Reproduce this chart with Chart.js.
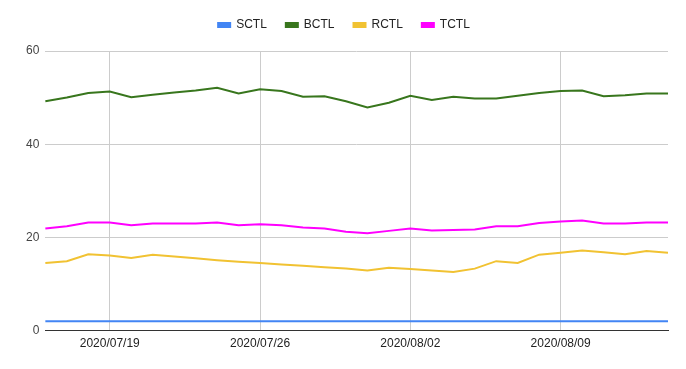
<!DOCTYPE html>
<html>
<head>
<meta charset="utf-8">
<script src="https://cdn.jsdelivr.net/npm/chart.js@4"></script>
<style>
  html, body { margin: 0; padding: 0; background: #fff; }
  #wrap { width: 686px; height: 369px; }
</style>
</head>
<body>
<div id="wrap"><canvas id="myChart"></canvas></div>
<script>
// dates 07/16 .. 08/14
var labels = [
  "2020/07/16","2020/07/17","2020/07/18","2020/07/19","2020/07/20","2020/07/21","2020/07/22",
  "2020/07/23","2020/07/24","2020/07/25","2020/07/26","2020/07/27","2020/07/28","2020/07/29",
  "2020/07/30","2020/07/31","2020/08/01","2020/08/02","2020/08/03","2020/08/04","2020/08/05",
  "2020/08/06","2020/08/07","2020/08/08","2020/08/09","2020/08/10","2020/08/11","2020/08/12",
  "2020/08/13","2020/08/14"
];
var tickLabels = ["2020/07/19", "2020/07/26", "2020/08/02", "2020/08/09"];
var yTicks = [0, 20, 40, 60];

var sctl = [2,2,2,2,2,2,2,2,2,2,2,2,2,2,2,2,2,2,2,2,2,2,2,2,2,2,2,2,2,2];
var bctl = [49.2,50.0,51.0,51.3,50.1,50.6,51.1,51.5,52.1,50.9,51.8,51.4,50.2,50.3,
            49.2,47.9,48.9,50.4,49.5,50.2,49.8,49.8,50.4,51.0,51.4,51.5,50.3,50.5,50.9,50.9];
var rctl = [14.5,14.9,16.4,16.1,15.6,16.3,15.9,15.5,15.1,14.8,14.5,14.2,13.9,13.6,
            13.3,12.9,13.5,13.2,12.9,12.6,13.3,14.9,14.5,16.3,16.7,17.2,16.8,16.4,17.1,16.7];
var tctl = [21.9,22.4,23.2,23.2,22.6,23.0,23.0,23.0,23.2,22.6,22.8,22.6,22.1,21.9,
            21.2,20.9,21.4,21.9,21.5,21.6,21.7,22.4,22.4,23.1,23.4,23.6,23.0,23.0,23.2,23.2];

Chart.defaults.font.family = "'Liberation Sans', Arial, sans-serif";
Chart.defaults.font.size = 12;

function line(name, data, color) {
    return {
        label: name,
        data: data,
        borderColor: color,
        backgroundColor: color,
        borderWidth: 2,
        pointRadius: 0,
        pointHoverRadius: 0,
        tension: 0,
    };
}

// extra space under the legend
const legendGap = {
    id: 'legendGap',
    beforeInit(chart) {
        const fit = chart.legend.fit;
        chart.legend.fit = function() {
            fit.bind(chart.legend)();
            this.height += 10;
        };
    },
};

new Chart(document.getElementById("myChart"), {
    type : 'line',
    data : {
        labels: labels,
        datasets: [
            line("SCTL", sctl, "#4285F4"),
            line("BCTL", bctl, "#38761D"),
            line("RCTL", rctl, "#F1C232"),
            line("TCTL", tctl, "#FF00FF"),
        ],
    },
    plugins: [legendGap],
    options : {
        responsive: true,
        maintainAspectRatio: false,
        animation: false,
        layout: { padding: { left: 20, right: 18, top: 0, bottom: 12 } },
        plugins: {
            legend: {
                position: 'top',
                labels: {
                    boxWidth: 12,
                    boxHeight: 4,
                    padding: 19,
                    color: '#222',
                    font: { size: 12 },
                },
            },
            tooltip: { enabled: false },
        },
        scales: {
            x: {
                offset: false,
                border: { display: true, color: '#333', width: 1 },
                grid: {
                    drawTicks: false,
                    color: function(ctx) {
                        var l = labels[ctx.index];
                        return tickLabels.indexOf(l) >= 0 ? '#cccccc' : 'rgba(0,0,0,0)';
                    },
                },
                ticks: {
                    autoSkip: false,
                    maxRotation: 0,
                    padding: 6,
                    color: '#222',
                    callback: function(v, i) {
                        return tickLabels.indexOf(labels[i]) >= 0 ? labels[i] : '';
                    },
                },
            },
            y: {
                min: yTicks[0],
                max: yTicks[yTicks.length - 1],
                border: { display: false },
                grid: {
                    drawTicks: false,
                    color: function(ctx) {
                        return ctx.tick && ctx.tick.value === 0 ? '#333' : '#cccccc';
                    },
                },
                afterBuildTicks: function(axis) {
                    axis.ticks = yTicks.map(function(v) { return { value: v }; });
                },
                ticks: {
                    padding: 6,
                    color: '#444',
                },
            },
        },
    },
});
</script>
</body>
</html>
